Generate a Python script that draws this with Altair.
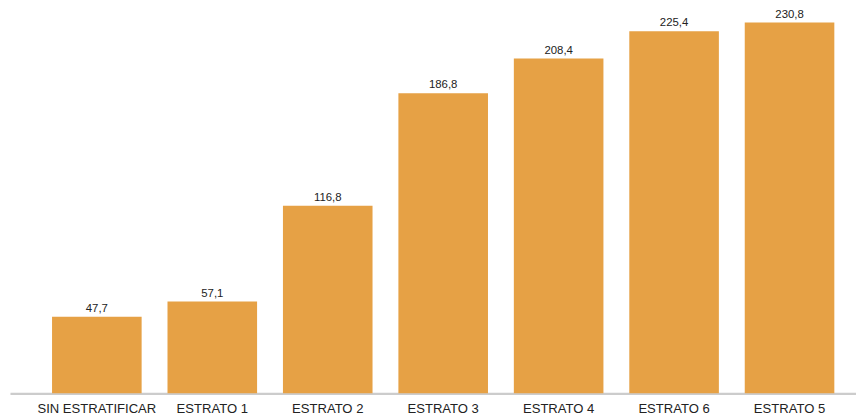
import altair as alt
import pandas as pd

categories = ["SIN ESTRATIFICAR", "ESTRATO 1", "ESTRATO 2", "ESTRATO 3",
              "ESTRATO 4", "ESTRATO 6", "ESTRATO 5"]
values = [47.7, 57.1, 116.8, 186.8, 208.4, 225.4, 230.8]

df = pd.DataFrame({"cat": categories, "val": values})
df["label"] = [f"{v:.1f}".replace(".", ",") for v in values]

x = alt.X("cat:N", sort=categories, title=None,
          scale=alt.Scale(paddingInner=0.224, paddingOuter=0.276, align=0.66),
          axis=alt.Axis(labelAngle=0, ticks=False, domainColor="#cccccc",
                        domainWidth=2.3, labelFont="Liberation Sans",
                        labelFontSize=13.2, labelColor="#222222",
                        labelPadding=9, labelBaseline="top"))
y = alt.Y("val:Q", title=None, scale=alt.Scale(domain=[0, 238.6], nice=False),
          axis=None)

bars = alt.Chart(df).mark_bar(color="#E6A145").encode(x=x, y=y)
text = alt.Chart(df).mark_text(dy=-3, baseline="bottom", font="Liberation Sans",
                               fontSize=11.5, color="#222222").encode(
    x=alt.X("cat:N", sort=categories), y="val:Q", text="label:N")

chart = (bars + text).properties(
    width=854, height=387,
    autosize=alt.AutoSizeParams(type="none"),
    padding={"left": 2, "top": 0, "right": 0, "bottom": 30},
).configure_view(stroke=None)

chart.save("out.html", embed_options={"renderer": "svg", "actions": False})
